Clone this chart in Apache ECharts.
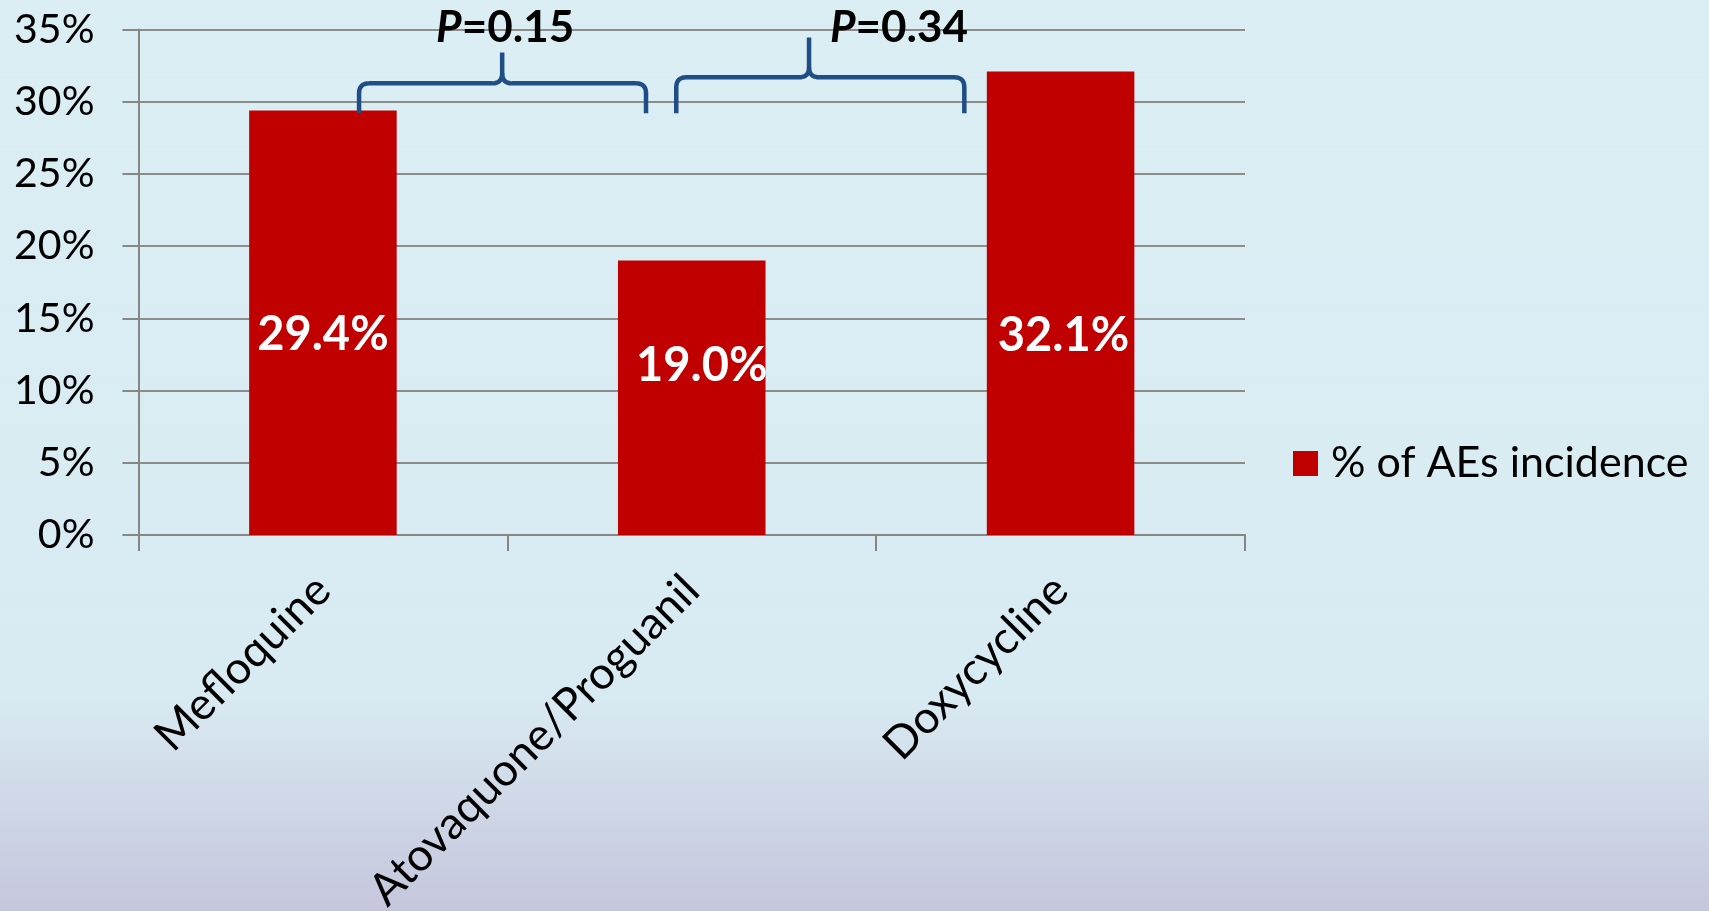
<!DOCTYPE html>
<html>
<head>
<meta charset="utf-8">
<title>% of AEs incidence</title>
<script src="https://cdn.jsdelivr.net/npm/echarts@6/dist/echarts.min.js"></script>
<style>
  html, body { margin: 0; padding: 0; width: 100%; height: 100%; overflow: hidden; }
  #chart { width: 1709px; height: 911px; }
</style>
</head>
<body>
<div id="chart"></div>
<script>
// Adverse-event incidence by prophylaxis regimen
const categories = ['Mefloquine', 'Atovaquone/Proguanil', 'Doxycycline'];
const incidence = [29.4, 19.0, 32.1];
const seriesName = '% of AEs incidence';
const yTicks = [0, 5, 10, 15, 20, 25, 30, 35];
const pValues = ['0.15', '0.34'];

const FONT = 'Lato, "Open Sans", sans-serif';
const BAR_COLOR = '#c00000';
const BRACE_COLOR = '#1f4e86';
const GRID_COLOR = '#8c8c8c';

// where each value label sits relative to the bar centre
const labelOffsets = [[0, 12], [10, -32], [3, 33]];

// brace geometry: category units for x, percent for y
const braces = [
  { left: 0.098, right: 0.876, mid: 0.486, bottom: 29.2, bar: 31.27, top: 33.4, text: 0.494, textY: 35.1 },
  { left: 0.958, right: 1.739, mid: 1.318, bottom: 29.2, bar: 31.69, top: 34.45, text: 1.562, textY: 35.1 }
];

const chart = echarts.init(document.getElementById('chart'), null, { renderer: 'canvas' });

const option = {
  backgroundColor: {
    type: 'linear', x: 0, y: 0, x2: 0, y2: 1,
    colorStops: [
      { offset: 0, color: '#dbeef4' },
      { offset: 0.76, color: '#d9ebf2' },
      { offset: 1, color: '#c5c6dc' }
    ]
  },
  textStyle: { fontFamily: FONT },
  grid: {
    left: 138.5, right: 464, top: 29.5, bottom: 376,
    outerBoundsMode: 'none', containLabel: false
  },
  legend: {
    data: [seriesName],
    left: 1288, top: 437,
    icon: 'rect', itemWidth: 25, itemHeight: 25,
    textStyle: { fontSize: 43, color: '#000', fontFamily: FONT, padding: [0, 0, 0, 8] },
    selectedMode: false
  },
  xAxis: {
    type: 'category',
    data: categories,
    axisLine: { lineStyle: { color: '#868686', width: 2 } },
    axisTick: { show: true, length: 16, lineStyle: { color: '#868686', width: 2 } },
    axisLabel: { rotate: 45, fontSize: 45, color: '#000', margin: 48, fontFamily: FONT, interval: 0 }
  },
  yAxis: {
    type: 'value',
    min: yTicks[0], max: yTicks[yTicks.length - 1], interval: yTicks[1] - yTicks[0],
    axisLine: { show: true, lineStyle: { color: '#868686', width: 2 } },
    axisTick: { show: true, length: 16, lineStyle: { color: '#868686', width: 2 } },
    splitLine: { lineStyle: { color: GRID_COLOR, width: 2 } },
    axisLabel: { fontSize: 41, color: '#000', margin: 44, fontFamily: FONT, formatter: v => v + '%' }
  },
  series: [{
    name: seriesName,
    type: 'bar',
    barCategoryGap: '60%',
    itemStyle: { color: BAR_COLOR },
    data: incidence.map((v, i) => ({
      value: v,
      label: { offset: labelOffsets[i] }
    })),
    label: {
      show: true, position: 'inside',
      color: '#fff', fontSize: 47, fontWeight: 'bold', fontFamily: FONT,
      formatter: p => p.value.toFixed(1) + '%'
    }
  }]
};

chart.setOption(option);

// curly braces and P-value annotations, placed through the axes
function catX(pos) {
  const x0 = chart.convertToPixel({ xAxisIndex: 0 }, 0);
  const x1 = chart.convertToPixel({ xAxisIndex: 0 }, 1);
  return x0 + pos * (x1 - x0);
}
function valY(v) {
  return chart.convertToPixel({ yAxisIndex: 0 }, v);
}

// sample a quadratic corner from p0 through control c to p1
function corner(p0, c, p1, steps) {
  const pts = [];
  for (let k = 0; k <= steps; k++) {
    const t = k / steps, u = 1 - t;
    pts.push([
      u * u * p0[0] + 2 * u * t * c[0] + t * t * p1[0],
      u * u * p0[1] + 2 * u * t * c[1] + t * t * p1[1]
    ]);
  }
  return pts;
}

const graphics = [];
braces.forEach((b, i) => {
  const L = catX(b.left), R = catX(b.right), C = catX(b.mid);
  const B = valY(b.bottom), H = valY(b.bar), T = valY(b.top);
  const r = 10, s = 8;
  const leftHalf = [[L, B]]
    .concat(corner([L, H + r], [L, H], [L + r, H], s))
    .concat(corner([C - r, H], [C, H], [C, H - r], s))
    .concat([[C, T]]);
  const rightHalf = corner([C, H - r], [C, H], [C + r, H], s)
    .concat(corner([R - r, H], [R, H], [R, H + r], s))
    .concat([[R, B]]);
  [leftHalf, rightHalf].forEach(points => {
    graphics.push({
      type: 'polyline',
      shape: { points: points },
      style: { fill: null, stroke: BRACE_COLOR, lineWidth: 4.5, lineJoin: 'round' },
      z: 10
    });
  });
  graphics.push({
    type: 'text',
    x: catX(b.text), y: valY(b.textY),
    style: {
      text: '{p|P}{n|=' + pValues[i] + '}',
      align: 'center', verticalAlign: 'middle',
      rich: {
        p: { fontSize: 44, fontWeight: 'bold', fontStyle: 'italic', fill: '#000', fontFamily: FONT },
        n: { fontSize: 44, fontWeight: 'bold', fill: '#000', fontFamily: FONT }
      }
    },
    z: 11
  });
});

chart.setOption({ graphic: graphics });
</script>
</body>
</html>
